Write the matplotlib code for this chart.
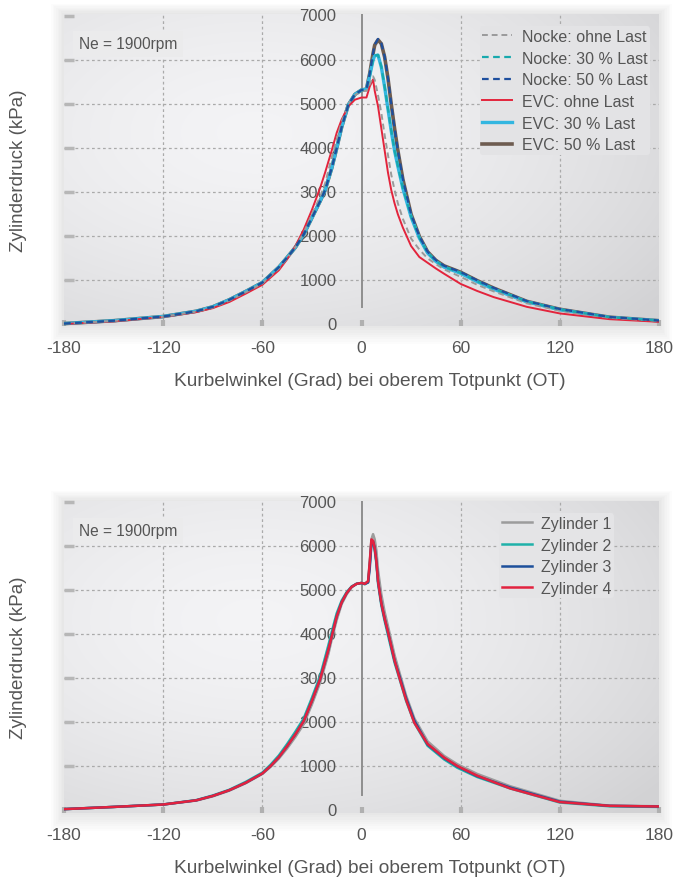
import numpy as np
import matplotlib
matplotlib.use("Agg")
import matplotlib.pyplot as plt
from matplotlib.patches import FancyBboxPatch

plt.rcParams['font.family'] = ['Liberation Sans', 'DejaVu Sans']

# --- data: top chart (cam vs. EVC, three load levels) ---
angle_top = [-180, -150, -120, -100, -90, -80, -70, -60, -50, -45, -40, -35, -30, -25, -22,
             -18, -15, -12, -8, -4, 0, 3, 5, 7, 8, 10, 12, 14, 16, 18, 20, 22, 25, 30, 35,
             40, 45, 50, 60, 70, 80, 100, 120, 150, 180]
nocke_ohne = [15, 80, 175, 290, 385, 540, 730, 930, 1270, 1500, 1760, 2080, 2500, 2900, 3200,
              3800, 4200, 4600, 5000, 5200, 5300, 5300, 5450, 5630, 5550, 5200, 4800, 4300, 3850,
              3400, 3050, 2750, 2400, 1950, 1700,
              1500, 1370, 1250, 1080, 900, 750, 480, 310, 150, 80]
nocke_30 = [20, 85, 180, 300, 400, 560, 750, 950, 1300, 1520, 1750, 2040, 2420, 2800, 3050,
            3550, 4000, 4480, 4980, 5220, 5320, 5340, 5650, 6000, 6100, 6120, 5850, 5400, 4900,
            4400, 3950, 3600, 3100, 2450, 1970,
            1630, 1440, 1310, 1170, 980, 810, 520, 340, 165, 85]
nocke_50 = [20, 85, 180, 300, 400, 560, 750, 950, 1300, 1520, 1750, 2040, 2420, 2800, 3050,
            3550, 4000, 4480, 4980, 5220, 5320, 5340, 5700, 6150, 6350, 6480, 6380, 6080, 5600,
            5000, 4450, 3950, 3300, 2500, 2000,
            1650, 1460, 1330, 1190, 1000, 830, 530, 350, 170, 90]
evc_ohne = [10, 70, 170, 280, 370, 510, 700, 900, 1230, 1480, 1780, 2150, 2600, 3100, 3450,
            3950, 4350, 4650, 4950, 5100, 5150, 5150, 5400, 5560, 5300, 4950, 4450, 3950, 3450,
            3050, 2750, 2500, 2200, 1780, 1530,
            1400, 1270, 1150, 920, 760, 620, 400, 250, 120, 60]
evc_30 = [20, 85, 180, 300, 400, 560, 750, 950, 1300, 1520, 1750, 2040, 2420, 2800, 3050,
          3550, 4000, 4480, 4980, 5220, 5320, 5340, 5650, 6000, 6100, 6110, 5840, 5390, 4890,
          4390, 3940, 3590, 3090, 2440, 1960,
          1620, 1430, 1300, 1160, 970, 800, 515, 335, 160, 85]
evc_50 = [20, 85, 180, 300, 400, 560, 750, 950, 1300, 1520, 1750, 2040, 2420, 2800, 3050,
          3550, 4000, 4480, 4980, 5220, 5320, 5340, 5700, 6150, 6340, 6460, 6370, 6070, 5590,
          5000, 4450, 3950, 3300, 2500, 2000,
          1650, 1455, 1330, 1185, 995, 825, 525, 345, 165, 85]

# --- data: bottom chart (four cylinders) ---
angle_bot = [-180, -150, -120, -100, -90, -80, -70, -60, -55, -50, -45, -40, -35, -30, -25,
             -20, -18, -15, -12, -9, -6, -3, 0, 2, 4, 5, 6, 7, 8, 9, 10, 12, 14, 16, 20, 23,
             27, 32, 40, 50, 58, 70, 90, 120, 150, 180]
zyl_1 = [20, 70, 125, 215, 310, 440, 610, 820, 980, 1170, 1400, 1660, 1950, 2400, 2900,
         3550, 3880, 4320, 4680, 4900, 5060, 5140, 5160,
         5150, 5200, 5600, 6150, 6270, 6150, 5900, 5450,
         4900, 4500, 4180, 3520, 3120,
         2600, 2080, 1560, 1230, 1040, 820, 540, 210, 100, 85]
zyl_2 = [20, 70, 125, 225, 330, 460, 640, 850, 1030, 1240, 1500, 1780, 2080, 2550, 3050,
         3750, 4050, 4470, 4760, 4950, 5080, 5140, 5160,
         5130, 5180, 5600, 6100, 6080, 5900, 5600, 5150,
         4650, 4300, 3980, 3350, 2980,
         2480, 1980, 1460, 1150, 960, 750, 490, 170, 85, 70]
zyl_3 = [20, 70, 125, 220, 320, 450, 620, 830, 1000, 1200, 1450, 1720, 2020, 2480, 2980,
         3650, 3950, 4400, 4720, 4930, 5070, 5140, 5160,
         5140, 5170, 5500, 6050, 6100, 5960, 5650, 5200,
         4700, 4350, 4050, 3400, 3040,
         2540, 2030, 1490, 1180, 990, 770, 510, 190, 95, 80]
zyl_4 = [20, 70, 125, 220, 320, 450, 620, 830, 1000, 1200, 1450, 1720, 2020, 2480, 2980,
         3650, 3950, 4400, 4720, 4930, 5070, 5140, 5160,
         5140, 5200, 5650, 6150, 6120, 5950, 5650, 5200,
         4700, 4350, 4050, 3400, 3000,
         2500, 1980, 1500, 1190, 1000, 780, 490, 180, 95, 80]

x_ticks = [-180, -120, -60, 0, 60, 120, 180]
y_ticks = [0, 1000, 2000, 3000, 4000, 5000, 6000, 7000]

TEXT = '#555555'


def background(ax):
    # soft radial grey gradient like the original panel
    yy, xx = np.mgrid[0:1:200j, 0:1:300j]
    r = np.sqrt(((xx - 0.32) / 0.85) ** 2 + ((yy - 0.62) / 0.9) ** 2)
    r = np.clip(r, 0, 1) ** 1.6
    light, dark = 0.955, 0.825
    val = light - (light - dark) * r
    img = np.dstack([val, val, val + 0.008])
    ax.imshow(np.clip(img, 0, 1), extent=(0, 1, 0, 1), transform=ax.transAxes,
              aspect='auto', origin='lower', zorder=0, interpolation='bilinear')


def shadow(fig, ax):
    bb = ax.get_position()
    W, H = fig.get_size_inches() * fig.dpi
    for i in range(1, 9):
        dx = i * 1.6 / W
        dy = i * 1.6 / H
        p = FancyBboxPatch((bb.x0 - dx, bb.y0 - dy * 1.4), bb.width + 2 * dx, bb.height + dy * 2.2,
                           boxstyle='square,pad=0', transform=fig.transFigure,
                           facecolor='#000000', edgecolor='none', alpha=0.012, zorder=-5)
        fig.patches.append(p)


def style_axes(ax, ylim):
    background(ax)
    ax.set_xlim(-180, 180)
    ax.set_ylim(*ylim)
    for s in ax.spines.values():
        s.set_visible(False)
    ax.set_facecolor('none')

    # grid: dotted, no line at 0 deg / 0 kPa / 7000 kPa
    for v in [-120, -60, 60, 120]:
        ax.axvline(v, color='#aaaaaa', lw=0.9, ls=(0, (2.2, 2.2)), zorder=1)
    for v in y_ticks[1:-1]:
        ax.axhline(v, color='#aaaaaa', lw=0.9, ls=(0, (2.2, 2.2)), zorder=1)
    ax.plot([0, 0], [ylim[0] + 420, ylim[1]], color='#8e8e8e', lw=1.4, zorder=2)

    # thick little tick marks
    ax.set_yticks(y_ticks[1:])
    ax.tick_params(axis='y', direction='in', length=7, width=2.5, color='#b7b7b7',
                   labelleft=False)
    ax.set_xticks(x_ticks)
    ax.set_xticklabels([str(v) for v in x_ticks], fontsize=12.5, color=TEXT)
    ax.tick_params(axis='x', direction='in', length=4.5, width=3, color='#b0b0b0', pad=10)

    # y values are written in the middle, left of the 0 deg line
    for v in y_ticks:
        ax.annotate(str(v), xy=(0, v), xytext=(-18, 0), textcoords='offset points',
                    ha='right', va='center', fontsize=12, color=TEXT, zorder=1.5)

    ax.set_xlabel('Kurbelwinkel (Grad) bei oberem Totpunkt (OT)', fontsize=13.8,
                  color=TEXT)
    ax.xaxis.set_label_coords(0.514, -0.148)
    ax.set_ylabel('Zylinderdruck (kPa)', fontsize=13.5, color=TEXT)
    ax.yaxis.set_label_coords(-0.062, 0.5)
    ax.text(0.025, 0.905, 'Ne = 1900rpm', transform=ax.transAxes, fontsize=11.2,
            color=TEXT, va='center', zorder=3,
            bbox=dict(facecolor='#ebebec', edgecolor='none', pad=4))


fig = plt.figure(figsize=(6.73, 8.79), dpi=100)
ax1 = fig.add_axes([64 / 673, 1 - 327 / 879, 595 / 673, 312 / 879])
ax2 = fig.add_axes([64 / 673, 1 - 814 / 879, 595 / 673, 312 / 879])

# --- top chart ---
style_axes(ax1, (-35, 7045))
ax1.plot(angle_top, evc_50, color='#6e5c50', lw=2.6, label='EVC: 50 % Last', zorder=3)
ax1.plot(angle_top, evc_30, color='#33b6e0', lw=2.4, label='EVC: 30 % Last', zorder=3)
ax1.plot(angle_top, evc_ohne, color='#e3243c', lw=1.4, label='EVC: ohne Last', zorder=4)
ax1.plot(angle_top, nocke_ohne, color='#9a9a9a', lw=1.4, ls=(0, (3, 2)),
         label='Nocke: ohne Last', zorder=4)
ax1.plot(angle_top, nocke_30, color='#17a9ad', lw=1.6, ls=(0, (3, 2)),
         label='Nocke: 30 % Last', zorder=5)
ax1.plot(angle_top, nocke_50, color='#1e4f9e', lw=1.6, ls=(0, (3, 2)),
         label='Nocke: 50 % Last', zorder=5)

h, l = ax1.get_legend_handles_labels()
order = [3, 4, 5, 2, 1, 0]
leg1 = ax1.legend([h[i] for i in order], [l[i] for i in order], loc='upper right',
                  bbox_to_anchor=(0.985, 0.96), fontsize=11.5, frameon=True,
                  facecolor='#e3e3e5', edgecolor='none', framealpha=1,
                  handlelength=1.9, handletextpad=0.6, labelspacing=0.42,
                  borderpad=0.15, borderaxespad=0.0)
for t in leg1.get_texts():
    t.set_color(TEXT)
leg1.set_zorder(6)

# --- bottom chart ---
style_axes(ax2, (-68, 7023))
ax2.plot(angle_bot, zyl_1, color='#9c9c9c', lw=1.8, label='Zylinder 1', zorder=3)
ax2.plot(angle_bot, zyl_2, color='#1fb1a9', lw=1.8, label='Zylinder 2', zorder=3)
ax2.plot(angle_bot, zyl_3, color='#1d4f9b', lw=1.8, label='Zylinder 3', zorder=4)
ax2.plot(angle_bot, zyl_4, color='#e2223f', lw=1.8, label='Zylinder 4', zorder=5)
leg2 = ax2.legend(loc='upper right', bbox_to_anchor=(0.925, 0.96), fontsize=11.5,
                  frameon=True, facecolor='#e4e4e6', edgecolor='none', framealpha=1,
                  handlelength=1.9, handletextpad=0.6, labelspacing=0.42,
                  borderpad=0.15, borderaxespad=0.0)
for t in leg2.get_texts():
    t.set_color(TEXT)
leg2.set_zorder(6)

for ax in (ax1, ax2):
    shadow(fig, ax)

fig.savefig('out.png', dpi=100, facecolor='white')
